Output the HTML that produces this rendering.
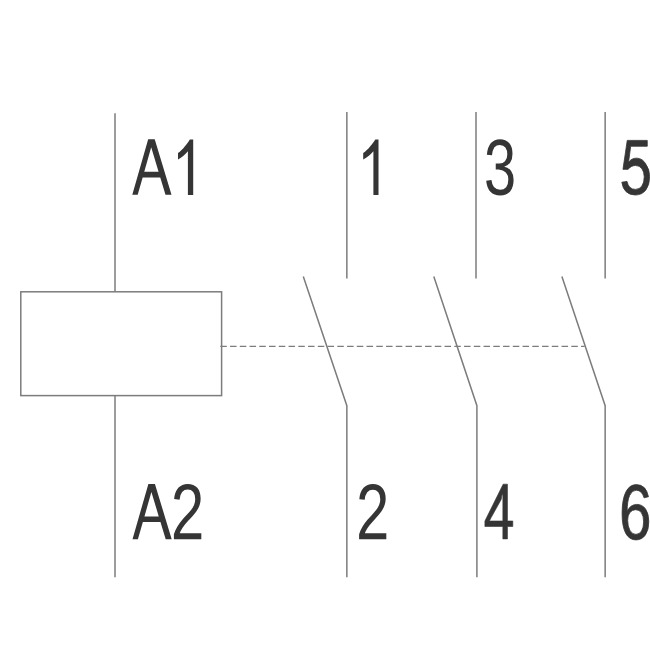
<!DOCTYPE html>
<html><head><meta charset="utf-8"><style>
html,body{margin:0;padding:0;background:#fff;width:650px;height:650px;overflow:hidden;font-family:"Liberation Sans",sans-serif}
svg{display:block}
</style></head><body>
<svg width="650" height="650" viewBox="0 0 650 650">
<rect width="650" height="650" fill="#fff"/>
<g stroke="#7c7c7c" stroke-width="1.5" stroke-linecap="butt" fill="none">
<line x1="115" y1="113.3" x2="115" y2="291.8"/>
<rect x="20.8" y="291.8" width="200.8" height="103.8" fill="none"/>
<line x1="115" y1="395.6" x2="115" y2="577.3"/>
<line x1="346.85" y1="112.0" x2="346.85" y2="278.4"/>
<polyline fill="none" points="303.30,276.6 346.85,405.7 346.85,577.3"/>
<line x1="476.00" y1="112.0" x2="476.00" y2="278.4"/>
<polyline fill="none" points="433.80,276.6 476.90,405.7 476.90,577.3"/>
<line x1="605.15" y1="112.0" x2="605.15" y2="278.6"/>
<polyline fill="none" points="561.90,276.6 605.15,405.7 605.15,577.3"/>
<line x1="220.3" y1="346.4" x2="584.6" y2="346.4" stroke-width="1.1" stroke-dasharray="6.5 3.25"/>
</g>
<g fill="#353535">
<path fill-rule="evenodd" d="M132.30 194.70 L148.18 139.30 L154.72 139.30 L171.50 194.70 L165.50 194.70 L160.26 177.40 L142.66 177.40 L137.70 194.70ZM151.20 147.30 L158.56 171.80 L144.26 171.80Z"/>
<path fill-rule="evenodd" d="M187.90 194.90 L193.20 194.90 L193.20 139.40 L189.86 139.40 C187.06 143.60 183.00 149.60 178.00 152.90 L178.00 159.50 C182.00 157.70 185.40 153.90 187.90 151.20 Z"/>
<path fill-rule="evenodd" d="M132.50 539.30 L148.38 483.90 L154.92 483.90 L171.70 539.30 L165.70 539.30 L160.46 522.00 L142.86 522.00 L137.90 539.30ZM151.40 491.90 L158.76 516.40 L144.46 516.40Z"/>
<path fill-rule="evenodd" d="M173.90 539.20L173.90 534.29Q175.40 529.76 177.56 526.30Q179.71 522.84 182.09 520.04Q184.47 517.23 186.81 514.84Q189.14 512.44 191.02 510.04Q192.90 507.64 194.06 505.01Q195.22 502.38 195.22 499.06Q195.22 494.57 193.22 492.10Q191.23 489.62 187.67 489.62Q184.30 489.62 182.11 492.09Q179.92 494.88 179.54 499.69L174.13 499.09Q174.72 491.90 178.35 487.77Q181.98 483.90 187.67 483.90Q193.93 483.90 197.29 487.79Q200.65 491.67 200.65 498.83Q200.65 502.00 199.55 505.13Q198.45 508.26 196.28 511.40Q194.10 514.53 187.97 521.10Q184.59 524.74 182.59 527.66Q180.60 530.58 179.71 533.28L201.30 533.28L201.30 539.20Z"/>
<path fill-rule="evenodd" d="M373.40 194.90 L378.50 194.90 L378.50 139.40 L375.29 139.40 C372.49 143.60 368.20 149.60 363.20 152.90 L363.20 159.50 C367.20 157.70 370.90 153.90 373.40 151.20 Z"/>
<path fill-rule="evenodd" d="M513.60 179.68Q513.60 187.27 510.10 191.43Q506.60 195.60 500.11 195.60Q494.07 195.60 490.48 191.84Q486.88 188.09 486.20 180.73L491.45 180.07Q492.46 189.80 500.11 189.80Q503.95 189.80 506.14 187.19Q508.32 184.58 508.32 179.44Q508.32 174.97 505.83 172.46Q503.33 169.94 498.62 169.44L495.74 169.44L495.74 163.48L498.50 163.48Q502.68 163.87 504.98 161.36Q507.28 158.85 507.28 154.41Q507.28 150.01 505.40 147.46Q503.53 144.91 499.83 144.91Q496.47 144.91 494.40 147.29Q492.27 150.56 491.98 155.31L486.88 154.72Q487.36 147.25 490.93 142.93Q494.41 139.15 499.89 139.15Q505.87 139.15 509.18 142.98Q512.50 146.82 512.50 153.67Q512.50 158.93 510.37 162.22Q508.24 165.51 504.18 166.67L504.18 166.83Q508.63 167.49 511.12 170.96Q513.60 174.42 513.60 179.68Z"/>
<path fill-rule="evenodd" d="M649.60 176.70Q649.60 185.22 645.81 190.11Q642.01 195.00 635.28 195.00Q629.64 195.00 626.18 191.71Q622.72 188.43 621.80 182.20L627.01 181.40Q628.64 189.38 635.40 189.38Q639.55 189.38 641.90 186.04Q644.25 182.70 644.25 176.85Q644.25 171.77 641.88 168.64Q639.52 165.50 635.51 165.50Q633.42 165.50 631.62 166.38Q629.82 167.26 628.01 169.36L622.97 169.36L627.24 140.40L647.25 140.40L647.25 146.25L630.68 146.25L628.56 162.33Q631.48 158.13 636.57 158.13Q642.70 158.13 646.06 164.55Q649.60 169.21 649.60 176.70Z" stroke="#353535" stroke-width="0.8"/>
<path fill-rule="evenodd" d="M359.10 539.20L359.10 534.30Q360.59 529.78 362.73 526.33Q364.87 522.87 367.23 520.07Q369.60 517.27 371.91 514.88Q374.23 512.49 376.10 510.09Q377.96 507.70 379.11 505.08Q380.27 502.45 380.27 499.13Q380.27 494.65 378.28 492.18Q376.30 489.71 372.77 489.71Q369.42 489.71 367.25 492.17Q365.08 494.96 364.70 499.76L359.33 499.17Q359.92 491.99 363.52 487.86Q367.12 484.00 372.77 484.00Q378.98 484.00 382.32 487.88Q385.66 491.76 385.66 498.90Q385.66 502.07 384.57 505.19Q383.47 508.32 381.31 511.45Q379.16 514.57 373.06 521.13Q369.71 524.76 367.73 527.68Q365.75 530.59 364.87 533.29L386.30 533.29L386.30 539.20Z"/>
<path fill-rule="evenodd" d="M507.45 526.50L507.45 538.90L502.85 538.90L502.85 526.50L484.90 526.50L484.90 521.06L503.15 484.15L507.45 484.15L507.45 520.99L512.80 520.99L512.80 526.50ZM502.85 495.77Q502.80 496.00 502.09 494.10Q501.47 498.88 501.15 499.58L491.28 517.33L489.82 520.21L489.39 520.99L502.85 520.99Z" stroke="#353535" stroke-width="0.6"/>
<path fill-rule="evenodd" d="M648.80 521.56Q648.80 530.06 645.38 534.98Q641.96 539.90 635.94 539.90Q629.22 539.90 625.66 533.15Q622.10 526.40 622.10 513.51Q622.10 499.55 625.80 492.08Q629.50 484.60 636.34 484.60Q646.00 484.60 648.49 496.73L644.08 497.87Q641.99 490.32 636.28 490.17Q631.93 490.17 629.54 495.64Q627.16 501.11 627.16 511.49Q628.54 508.02 631.06 506.21Q633.57 504.39 636.82 504.39Q642.33 504.39 645.56 509.05Q648.80 513.70 648.80 521.56ZM643.63 521.86Q643.63 516.03 641.51 512.86Q639.39 509.69 635.61 509.69Q632.05 509.69 629.86 512.50Q627.67 515.30 627.67 520.22Q627.67 526.44 629.94 530.40Q632.21 534.37 635.77 534.37Q639.45 534.37 641.54 531.03Q643.63 527.70 643.63 521.86Z" stroke="#353535" stroke-width="0.8"/>
</g>
</svg>
</body></html>
